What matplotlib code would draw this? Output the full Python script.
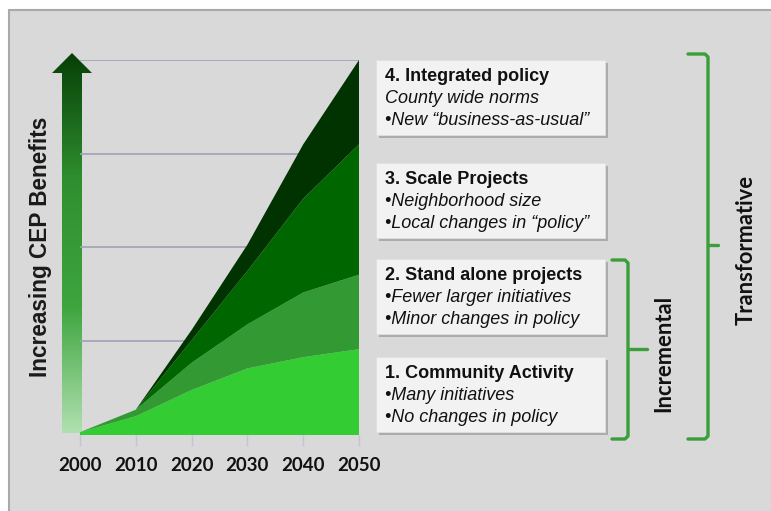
import matplotlib.pyplot as plt
import numpy as np
from matplotlib.patches import Rectangle, Polygon
from matplotlib.colors import LinearSegmentedColormap

years = [2000, 2010, 2020, 2030, 2040, 2050]
community = [0.03, 0.20, 0.48, 0.71, 0.83, 0.915]
standalone = [0.0, 0.07, 0.29, 0.47, 0.69, 0.795]
scale = [0.0, 0.0, 0.24, 0.57, 1.0, 1.39]
integrated = [0.0, 0.0, 0.11, 0.28, 0.58, 0.90]
layer_colors = ['#33cc33', '#339933', '#006600', '#003300']

box_titles = ['4. Integrated policy', '3. Scale Projects',
              '2. Stand alone projects', '1. Community Activity']
box_lines = [['County wide norms', '\u2022New \u201cbusiness-as-usual\u201d'],
             ['\u2022Neighborhood size', '\u2022Local changes in \u201cpolicy\u201d'],
             ['\u2022Fewer larger initiatives', '\u2022Minor changes in policy'],
             ['\u2022Many initiatives', '\u2022No changes in policy']]
box_tops = [60, 163, 259, 357]

W, H = 771, 511
fig = plt.figure(figsize=(W / 100, H / 100), dpi=100)
fig.patch.set_facecolor('white')

# pixel-space layer for the frame, arrow, boxes and braces
ov = fig.add_axes([0, 0, 1, 1], zorder=0)
ov.set_xlim(0, W)
ov.set_ylim(H, 0)
ov.axis('off')
ov.add_patch(Rectangle((9, 10), W, H, facecolor='#d9d9d9',
                       edgecolor='#a9a9a9', lw=1.5, zorder=0.5))

# gradient arrow
arrow = Polygon([(62, 433), (82, 433), (82, 73), (92, 73), (72, 53),
                 (52, 73), (62, 73)], closed=True, facecolor='none',
                edgecolor='none')
ov.add_patch(arrow)
cmap = LinearSegmentedColormap.from_list(
    'arr', ['#073f07', '#2f8f2f', '#3ea53e', '#b0e0b0'])
grad = np.linspace(0, 1, 256).reshape(-1, 1)
im = ov.imshow(grad, cmap=cmap, aspect='auto', extent=(52, 92, 433, 53),
               origin='upper', interpolation='bilinear', zorder=2)
im.set_clip_path(arrow)

ov.text(41, 247, 'Increasing CEP Benefits', rotation=90, ha='center',
        va='center', fontsize=16.3, fontweight='bold',
        family='Liberation Sans', color='#1a1a1a')

# text boxes
for top, title, lines in zip(box_tops, box_titles, box_lines):
    ov.add_patch(Rectangle((379, top + 3), 229, 75, facecolor='#8f8f8f',
                           edgecolor='none', alpha=0.6))
    ov.add_patch(Rectangle((376, top), 229, 75, facecolor='#f2f2f2',
                           edgecolor='#e0e0e0', lw=0.6))
    ov.text(385, top + 21, title, fontsize=13, fontweight='bold',
            family='Liberation Sans', color='#111111', va='baseline')
    for k, ln in enumerate(lines):
        ov.text(385, top + 43 + 22 * k, ln, fontsize=13, style='italic',
                family='Liberation Sans', color='#111111', va='baseline')

# braces
def brace(x0, x1, ytop, ybot, ymid, xtip):
    r = 3
    ov.plot([x0, x1 - r, x1, x1, x1 - r, x0],
            [ytop, ytop, ytop + r, ybot - r, ybot, ybot],
            color='#3a9e3a', lw=2.4, solid_joinstyle='round',
            solid_capstyle='round')
    ov.plot([x1, xtip], [ymid, ymid], color='#3a9e3a', lw=2.4,
            solid_capstyle='round')

brace(612, 628, 260, 439, 349, 647)
brace(688, 708, 54, 439, 245, 718)

ov.text(664, 353, 'Incremental', rotation=90, ha='center', va='center',
        fontsize=15.8, fontweight='bold', family='Lato', color='#111111')
ov.text(746, 250, 'Transformative', rotation=90, ha='center', va='center',
        fontsize=15.8, fontweight='bold', family='Lato', color='#111111')

# stacked area chart
ax = fig.add_axes([80 / W, 1 - 435 / H, (359 - 80) / W, (435 - 60) / H],
                  zorder=1)
ax.set_facecolor('none')
ax.stackplot(years, community, standalone, scale, integrated,
             colors=layer_colors, lw=0)
ax.set_xlim(2000, 2050)
ax.set_ylim(0, 4)
ax.set_yticks([1, 2, 3, 4])
ax.yaxis.grid(True, color='#9ea2b4', lw=1.2)
ax.set_axisbelow(True)
ax.tick_params(axis='y', length=0, labelleft=False)
ax.set_xticks(years)
ax.tick_params(axis='x', length=8, width=1, color='#c4c4d4', pad=8)
for lbl in ax.get_xticklabels():
    lbl.set_fontweight('bold')
    lbl.set_fontsize(13.5)
    lbl.set_family('Lato')
    lbl.set_color('#111111')
for s in ax.spines.values():
    s.set_visible(False)

fig.savefig('out.png', dpi=100)
